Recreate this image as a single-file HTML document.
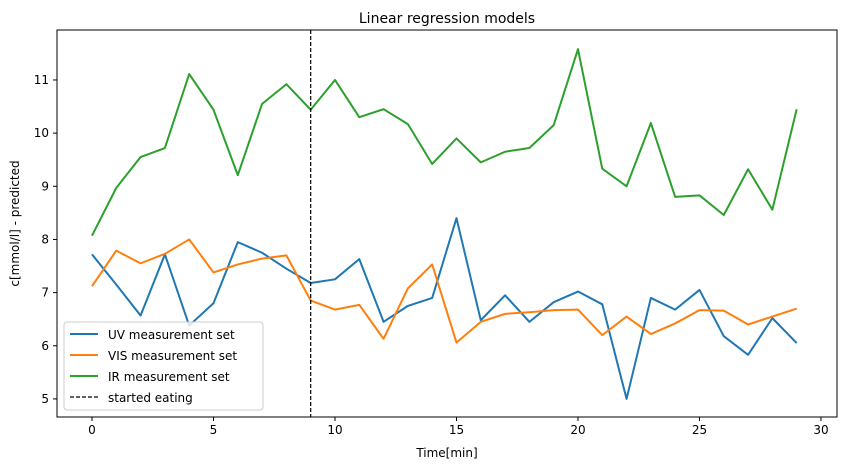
<!DOCTYPE html>
<html><head><meta charset="utf-8"><style>
body{margin:0;background:#fff;font-family:"Liberation Sans","DejaVu Sans",sans-serif;}
svg text{font-family:"DejaVu Sans","Liberation Sans",sans-serif;}
</style></head><body>
<svg id="chart" width="842" height="470" xmlns="http://www.w3.org/2000/svg"></svg>
<script>
const xs = [0,1,2,3,4,5,6,7,8,9,10,11,12,13,14,15,16,17,18,19,20,21,22,23,24,25,26,27,28,29];
const uvValues = [7.72,7.15,6.57,7.72,6.38,6.8,7.95,7.75,7.45,7.18,7.25,7.63,6.45,6.75,6.9,8.4,6.48,6.95,6.45,6.82,7.02,6.78,5.0,6.9,6.68,7.05,6.18,5.83,6.52,6.05];
const visValues = [7.12,7.79,7.55,7.73,8.0,7.38,7.53,7.64,7.7,6.85,6.68,6.77,6.13,7.08,7.53,6.06,6.45,6.6,6.63,6.67,6.68,6.2,6.55,6.22,6.42,6.67,6.66,6.4,6.55,6.7];
const irValues = [8.07,8.97,9.55,9.72,11.11,10.44,9.21,10.55,10.92,10.44,11.0,10.3,10.45,10.17,9.42,9.9,9.45,9.65,9.72,10.15,11.58,9.33,9.0,10.19,8.8,8.83,8.46,9.32,8.56,10.45];
const xTicks = [0,5,10,15,20,25,30];
const yTicks = [5,6,7,8,9,10,11];
const eatingTime = 9;
const L=57,R=837,T=30,B=417;
const X0=-1.44,X1=30.66,Y0=4.66,Y1=11.94;
const sx=v=>L+(v-X0)/(X1-X0)*(R-L);
const sy=v=>B-(v-Y0)/(Y1-Y0)*(B-T);
const svg=document.getElementById('chart');
const NS='http://www.w3.org/2000/svg';
function mk(tag,attrs,parent){const e=document.createElementNS(NS,tag);for(const k in attrs)e.setAttribute(k,attrs[k]);(parent||svg).appendChild(e);return e;}
const title=mk('text',{x:(L+R)/2,y:23,'text-anchor':'middle','font-size':14});title.textContent='Linear regression models';


xTicks.forEach(t=>{mk('line',{x1:sx(t),x2:sx(t),y1:B,y2:B+4,stroke:'#000'});
 const tx=mk('text',{x:sx(t),y:B+17,'text-anchor':'middle','font-size':12});tx.textContent=t;
 
 });
yTicks.forEach(t=>{mk('line',{x1:L-4,x2:L,y1:sy(t),y2:sy(t),stroke:'#000'});
 const tx=mk('text',{x:L-8,y:sy(t)+4,'text-anchor':'end','font-size':12});tx.textContent=t;
 
 });
const xl=mk('text',{x:(L+R)/2,y:457,'text-anchor':'middle','font-size':12});xl.textContent='Time[min]';


const yl=mk('text',{x:0,y:0,'text-anchor':'middle','font-size':12,transform:`translate(19,${(T+B)/2}) rotate(-90)`});yl.textContent='c[mmol/l] - predicted';


const series=[[uvValues,'#1f77b4','uv-line'],[visValues,'#ff7f0e','vis-line'],[irValues,'#2ca02c','ir-line']];
series.forEach(([vals,c,n])=>{const p=mk('polyline',{points:vals.map((v,i)=>sx(xs[i])+','+sy(v)).join(' '),fill:'none',stroke:c,'stroke-width':2,'stroke-linejoin':'round'});
 
 });
const vl=mk('line',{x1:sx(eatingTime),x2:sx(eatingTime),y1:T,y2:B,stroke:'#000','stroke-width':1.2,'stroke-dasharray':'4,2'});


const frame=mk('rect',{x:L,y:T,width:R-L,height:B-T,fill:'none',stroke:'#000','stroke-width':1});


const lg=mk('g',{});


mk('rect',{x:64,y:322,width:199,height:88,rx:3,fill:'#fff','fill-opacity':0.8,stroke:'#ccc'},lg);
const entries=[['UV measurement set','#1f77b4',''],['VIS measurement set','#ff7f0e',''],['IR measurement set','#2ca02c',''],['started eating','#000','4,2']];
entries.forEach(([t,c,d],i)=>{const y=334+i*21;
 const g=mk('g',{},lg);
 
 
 mk('line',{x1:70,x2:98,y1:y,y2:y,stroke:c,'stroke-width':d?1.2:2,'stroke-dasharray':d},g);
 const tx=mk('text',{x:108,y:y+5,'font-size':12},g);tx.textContent=t;});
</script>
</body></html>
